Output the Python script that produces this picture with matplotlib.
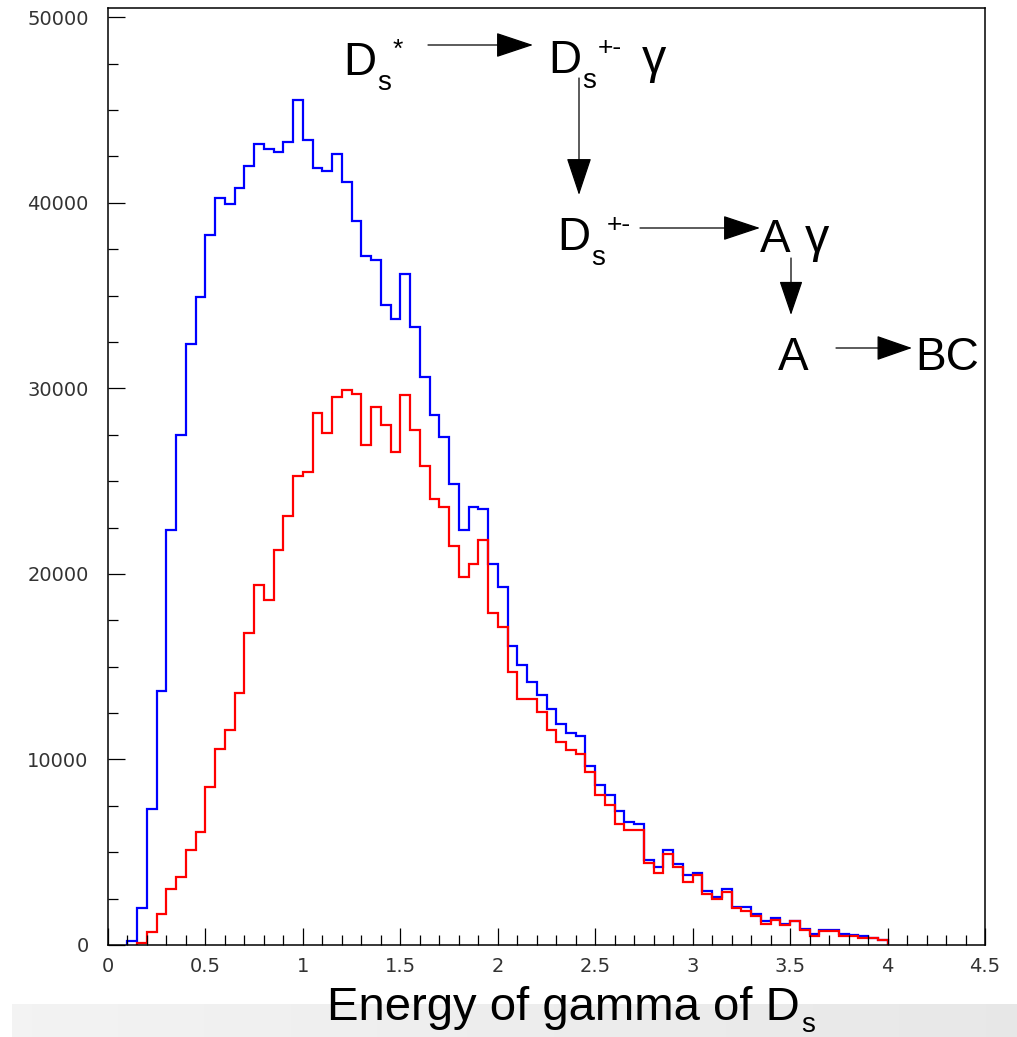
import numpy as np
import matplotlib
matplotlib.use("Agg")
import matplotlib.pyplot as plt
from matplotlib.patches import FancyArrowPatch, ArrowStyle
from matplotlib.ticker import MultipleLocator

# ---------------- data (bin width 0.05) ----------------
bin_width = 0.05
blue_start = 0.10
blue_counts = [200, 1980, 7330, 13690, 22360, 27510, 32380, 34900, 38290, 40280,
               39960, 40820, 41970, 43160, 42920, 42740, 43270, 45560, 43360, 41880,
               41700, 42620, 41130, 39030, 37140, 36900, 34480, 33730, 36190, 33320,
               30600, 28590, 27400, 24850, 22340, 23600, 23510, 20560, 19270, 16110,
               15070, 14190, 13470, 12720, 11900, 11450, 11250, 9660, 8620, 8080,
               7220, 6610, 6500, 4600, 4190, 5100, 4360, 3770, 3860, 2910,
               2600, 3020, 2060, 2030, 1650, 1270, 1440, 1140, 1270, 880,
               570, 810, 810, 590, 560, 480, 390, 280]
red_start = 0.15
red_counts = [120, 680, 1650, 3020, 3650, 5110, 6090, 8500, 10540, 11570,
              13580, 16790, 19380, 18620, 21280, 23110, 25290, 25500, 28660, 27620,
              29510, 29900, 29720, 26970, 28990, 28050, 26560, 29630, 27730, 25810,
              24030, 23620, 21500, 19810, 20560, 21820, 17900, 17150, 14730, 13240,
              13240, 12550, 11580, 10940, 10500, 10290, 9340, 8080, 7530, 6500,
              6200, 6200, 4400, 3860, 4910, 4190, 3410, 3770, 2750, 2500,
              2870, 1970, 1850, 1580, 1140, 1350, 1060, 1270, 810, 480,
              740, 740, 480, 480, 390, 390, 280]
x_ticks = [0, 0.5, 1, 1.5, 2, 2.5, 3, 3.5, 4, 4.5]
x_tick_labels = ["0", "0.5", "1", "1.5", "2", "2.5", "3", "3.5", "4", "4.5"]
y_ticks = [0, 10000, 20000, 30000, 40000, 50000]
y_tick_labels = ["0", "10000", "20000", "30000", "40000", "50000"]
x_label_main = "Energy of gamma of D"
x_label_sub = "s"

# ---------------- figure ----------------
W, H = 1017, 1037
fig = plt.figure(figsize=(W / 100, H / 100), dpi=100)
fig.patch.set_facecolor("white")


def fx(x):
    return x / W


def fy(y):
    return 1 - y / H


# grey band at the bottom
bax = fig.add_axes([fx(12), 0, 1 - fx(12), 33 / H])
grad = np.linspace(0.95, 0.905, 256).reshape(1, -1)
bax.imshow(grad, aspect="auto", cmap="gray", vmin=0, vmax=1, extent=[0, 1, 0, 1])
bax.axis("off")

ax = fig.add_axes([fx(108), fy(945), fx(985) - fx(108), fy(8) - fy(945)])

blue_edges = blue_start + bin_width * np.arange(len(blue_counts) + 1)
red_edges = red_start + bin_width * np.arange(len(red_counts) + 1)
ax.stairs(blue_counts, blue_edges, color="#0000ff", lw=1.6, baseline=0)
ax.stairs(red_counts, red_edges, color="#ff0000", lw=1.6, baseline=0)

ax.set_xlim(0, 4.5)
ax.set_ylim(0, 50500)
ax.set_xticks(x_ticks)
ax.set_xticklabels(x_tick_labels)
ax.set_yticks(y_ticks)
ax.set_yticklabels(y_tick_labels)
ax.xaxis.set_minor_locator(MultipleLocator(0.1))
ax.yaxis.set_minor_locator(MultipleLocator(2500))
ax.tick_params(which="both", direction="in", top=False, right=False, width=0.9,
               colors="black", labelcolor="#333333", labelsize=14)
ax.tick_params(which="major", length=12.5)
ax.tick_params(which="minor", length=7)
ax.tick_params(axis="y", pad=14)
ax.tick_params(axis="x", pad=9)
for lab in ax.get_xticklabels() + ax.get_yticklabels():
    lab.set_family("DejaVu Sans")
for sp in ax.spines.values():
    sp.set_linewidth(1.1)
    sp.set_color("black")

FONT = ["Liberation Sans", "DejaVu Sans"]
fig.canvas.draw()
renderer = fig.canvas.get_renderer()


def txt(x, y, s, size):
    return fig.text(fx(x), fy(y), s, fontsize=size, family=FONT, ha="left",
                    va="baseline", color="black")


def right_px(t):
    bb = t.get_window_extent(renderer=renderer)
    return bb.x1


def arrow(x0, y0, x1, y1, hl=2.4, hw=0.8):
    p = FancyArrowPatch((fx(x0), fy(y0)), (fx(x1), fy(y1)),
                        transform=fig.transFigure,
                        arrowstyle=ArrowStyle("-|>", head_length=hl, head_width=hw),
                        mutation_scale=10, lw=0.9, color="black",
                        shrinkA=0, shrinkB=0)
    fig.add_artist(p)


def dsym(x, y, sup, size=33):
    d = txt(x, y, "D", size)
    xr = right_px(d)
    s = txt(xr + 1, y + 15, "s", 20)
    sp = txt(right_px(s) + 2, y - 18, sup, 19)
    return right_px(sp)


# row 1
dsym(343, 75, "*")
arrow(428, 45, 533, 45)
dsym(548, 73, "+-")
txt(642, 73, "γ", 35)
arrow(579, 78, 579, 195)

# row 2
dsym(557, 250, "+-")
arrow(640, 228, 760, 228)
txt(760, 252, "A", 33)
txt(805, 252, "γ", 35)
arrow(791, 258, 791, 315, hl=2.2, hw=0.75)

# row 3
txt(778, 370, "A", 33)
arrow(836, 348, 912, 348, hl=2.3, hw=0.8)
txt(915, 370, "BC", 33)

# x label
xl = txt(327, 1020, x_label_main, 34)
txt(right_px(xl) + 1, 1032, x_label_sub, 20)

fig.savefig("out.png", dpi=100)
